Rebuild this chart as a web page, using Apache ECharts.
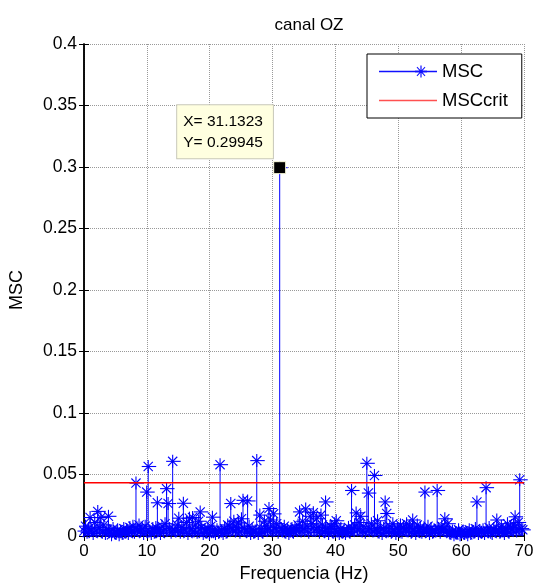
<!DOCTYPE html>
<html><head><meta charset="utf-8">
<script src="https://cdn.jsdelivr.net/npm/echarts@6/dist/echarts.min.js"></script>
<style>html,body{margin:0;padding:0;background:#fff}#c{width:539px;height:588px}</style>
</head><body><div id="c"></div>
<script>
const FONT = '"Liberation Sans", Arial, Helvetica, sans-serif';
const freqStep = 31.1323 / 128; // Hz per bin
const msc = [
  0.004, 0.008, 0.003, 0.006, 0.015, 0.005, 0.002, 0.011, 0.004, 0.020,
  0.007, 0.015, 0.003, 0.009, 0.002, 0.005, 0.016, 0.004, 0.001, 0.006,
  0.003, 0.002, 0.005, 0.001, 0.004, 0.002, 0.006, 0.003, 0.005, 0.002,
  0.007, 0.004, 0.008, 0.003, 0.043, 0.005, 0.009, 0.004, 0.006, 0.002,
  0.008, 0.0357, 0.0565, 0.004, 0.002, 0.006, 0.003, 0.007, 0.027, 0.005,
  0.002, 0.008, 0.004, 0.010, 0.0385, 0.0264, 0.006, 0.003, 0.0607, 0.005,
  0.004, 0.009, 0.0145, 0.003, 0.007, 0.0266, 0.005, 0.011, 0.002, 0.0145,
  0.006, 0.015, 0.004, 0.009, 0.003, 0.012, 0.0196, 0.007, 0.002, 0.005,
  0.003, 0.006, 0.002, 0.008, 0.0153, 0.004, 0.002, 0.005, 0.003, 0.058,
  0.004, 0.002, 0.006, 0.003, 0.009, 0.008, 0.0264, 0.005, 0.012, 0.004,
  0.007, 0.0107, 0.003, 0.014, 0.029, 0.006, 0.004, 0.0285, 0.008, 0.002,
  0.005, 0.003, 0.004, 0.0613, 0.002, 0.017, 0.006, 0.003, 0.012, 0.008,
  0.005, 0.0223, 0.013, 0.004, 0.018, 0.007, 0.010, 0.003, 0.29945, 0.006,
  0.004, 0.008, 0.003, 0.005, 0.002, 0.004, 0.006, 0.003, 0.007, 0.005,
  0.009, 0.0196, 0.004, 0.012, 0.006, 0.022, 0.008, 0.003, 0.016, 0.010,
  0.019, 0.005, 0.014, 0.007, 0.003, 0.017, 0.009, 0.004, 0.0277, 0.006,
  0.002, 0.008, 0.0073, 0.003, 0.010, 0.0124, 0.004, 0.002, 0.006, 0.003,
  0.005, 0.002, 0.004, 0.007, 0.003, 0.037, 0.006, 0.009, 0.0188, 0.005,
  0.011, 0.016, 0.004, 0.008, 0.003, 0.0591, 0.0349, 0.006, 0.010, 0.004,
  0.0492, 0.005, 0.0124, 0.003, 0.007, 0.002, 0.006, 0.0277, 0.0183, 0.004,
  0.008, 0.003, 0.010, 0.005, 0.002, 0.006, 0.004, 0.009, 0.003, 0.007,
  0.005, 0.010, 0.004, 0.008, 0.003, 0.013, 0.006, 0.002, 0.009, 0.004,
  0.007, 0.003, 0.005, 0.0357, 0.004, 0.008, 0.002, 0.006, 0.003, 0.005,
  0.004, 0.037, 0.006, 0.003, 0.008, 0.005, 0.014, 0.004, 0.010, 0.003,
  0.002, 0.004, 0.001, 0.003, 0.002, 0.005, 0.001, 0.003, 0.004, 0.002,
  0.003, 0.001, 0.005, 0.002, 0.004, 0.003, 0.006, 0.0277, 0.002, 0.004,
  0.003, 0.005, 0.002, 0.0393, 0.004, 0.007, 0.003, 0.002, 0.006, 0.004,
  0.013, 0.005, 0.003, 0.008, 0.004, 0.002, 0.006, 0.010, 0.003, 0.007,
  0.005, 0.009, 0.0156, 0.004, 0.011, 0.0457, 0.006, 0.005
];
const mscCrit = 0.0433;
const datatip = { x: 31.1323, y: 0.29945 };
const xRange = [0, 70], xStep = 10;
const yRange = [0, 0.4], yStep = 0.05;

const mscData = msc.map((v, i) => [i * freqStep, v]);

const iconMSC = 'path://M0 5.2 L58 5.2 L58 6.8 L0 6.8 Z M41.4 0 L42.6 0 L42.6 12 L41.4 12 Z M37.6 1.9 L38.3 1.2 L46.4 10.1 L45.7 10.8 Z M45.7 1.2 L46.4 1.9 L38.3 10.8 L37.6 10.1 Z M36 5 L48 5 L48 7 L36 7 Z';
const iconCrit = 'path://M0 5.3 L58 5.3 L58 6.7 L0 6.7 Z M0 0 L0.01 0 L0.01 0.01 Z M57.99 11.99 L58 11.99 L58 12 Z';

const chart = echarts.init(document.getElementById('c'), null, { renderer: 'canvas' });

const axisCommon = {
  axisLine: { show: true, lineStyle: { color: '#000', width: 1.5 } },
  axisTick: { show: true, inside: true, length: 5, lineStyle: { color: '#000', width: 1 } },
};

chart.setOption({
  animation: false,
  backgroundColor: '#fff',
  textStyle: { fontFamily: FONT },
  title: {
    text: 'canal OZ', left: 304, top: 12, textAlign: 'center',
    textStyle: { fontFamily: FONT, fontSize: 17, fontWeight: 'normal', color: '#000' }
  },
  grid: { left: 83, right: 15, top: 44, bottom: 51, containLabel: false },
  legend: {
    orient: 'vertical', left: 367, top: 54,
    padding: [8, 14, 8, 12], itemGap: 10, itemWidth: 58, itemHeight: 12,
    symbolKeepAspect: false, selectedMode: false,
    borderColor: '#000', borderWidth: 1, backgroundColor: '#fff',
    itemStyle: { borderWidth: 0 },
    textStyle: { fontFamily: FONT, fontSize: 18.5, color: '#000', lineHeight: 17 },
    data: [
      { name: 'MSC', icon: iconMSC, itemStyle: { color: '#1010ff', borderWidth: 0 } },
      { name: 'MSCcrit', icon: iconCrit, itemStyle: { color: '#ff5050', borderWidth: 0 } }
    ]
  },
  xAxis: [
    Object.assign({
      type: 'value', min: xRange[0], max: xRange[1], interval: xStep, position: 'bottom',
      name: 'Frequencia (Hz)', nameLocation: 'middle', nameGap: 29,
      nameTextStyle: { fontFamily: FONT, fontSize: 18, color: '#000' },
      axisLabel: { fontFamily: FONT, fontSize: 17, color: '#000', margin: 7 },
      splitLine: { show: true, lineStyle: { color: '#999', type: 'dotted', width: 1 } }
    }, axisCommon),
    Object.assign({
      type: 'value', min: xRange[0], max: xRange[1], interval: xStep, position: 'top',
      axisLabel: { show: false }, splitLine: { show: false }
    }, axisCommon)
  ],
  yAxis: [
    Object.assign({
      type: 'value', min: yRange[0], max: yRange[1], interval: yStep, position: 'left',
      name: 'MSC', nameLocation: 'middle', nameGap: 58,
      nameTextStyle: { fontFamily: FONT, fontSize: 18, color: '#000' },
      axisLabel: { fontFamily: FONT, fontSize: 17.5, color: '#000', margin: 7 },
      splitLine: { show: true, lineStyle: { color: '#999', type: 'dotted', width: 1 } }
    }, axisCommon),
    Object.assign({
      type: 'value', min: yRange[0], max: yRange[1], interval: yStep, position: 'right',
      axisLabel: { show: false }, splitLine: { show: false }
    }, axisCommon)
  ],
  series: [
    {
      name: 'MSC', type: 'custom', xAxisIndex: 0, yAxisIndex: 0,
      itemStyle: { color: '#0000ff', borderColor: '#0000ff' },
      data: mscData,
      z: 2,
      renderItem: function (params, api) {
        const x = api.value(0), y = api.value(1);
        const b = api.coord([x, 0]), t = api.coord([x, y]);
        const r = 6.5, d = 4.6;
        const st = { stroke: '#0000ff', lineWidth: 1.1, fill: null };
        return {
          type: 'group', children: [
            { type: 'line', shape: { x1: b[0], y1: b[1], x2: t[0], y2: t[1] }, style: { stroke: '#0000ff', lineWidth: 1, fill: null } },
            { type: 'line', shape: { x1: t[0] - r, y1: t[1], x2: t[0] + r + 1.5, y2: t[1] }, style: st },
            { type: 'line', shape: { x1: t[0], y1: t[1] - r, x2: t[0], y2: t[1] + r }, style: st },
            { type: 'line', shape: { x1: t[0] - d, y1: t[1] - d, x2: t[0] + d, y2: t[1] + d }, style: st },
            { type: 'line', shape: { x1: t[0] - d, y1: t[1] + d, x2: t[0] + d, y2: t[1] - d }, style: st }
          ]
        };
      }
    },
    {
      name: 'MSCcrit', type: 'line', xAxisIndex: 0, yAxisIndex: 0,
      color: '#ff0000',
      data: [[xRange[0], mscCrit], [xRange[1], mscCrit]],
      symbol: 'none', showSymbol: false,
      lineStyle: { color: '#ff0000', width: 1.3, opacity: 1 },
      itemStyle: { color: '#ff0000' },
      emphasis: { disabled: true },
      z: 3, silent: true
    },
    {
      name: 'datatip', type: 'scatter', xAxisIndex: 0, yAxisIndex: 0,
      data: [[datatip.x, datatip.y]],
      symbol: 'rect', symbolSize: 12,
      itemStyle: { color: '#000', borderColor: '#ffffe0', borderWidth: 1, opacity: 1 },
      z: 10, silent: true,
      label: {
        show: true, position: [-96, -56], align: 'left', verticalAlign: 'top',
        formatter: 'X= ' + datatip.x + '\nY= ' + datatip.y,
        fontFamily: FONT, fontSize: 15.5, lineHeight: 21, color: '#000',
        backgroundColor: '#ffffe0', borderColor: '#c8c8b8', borderWidth: 1,
        padding: [6, 10, 5, 6]
      }
    }
  ]
});
</script></body></html>
